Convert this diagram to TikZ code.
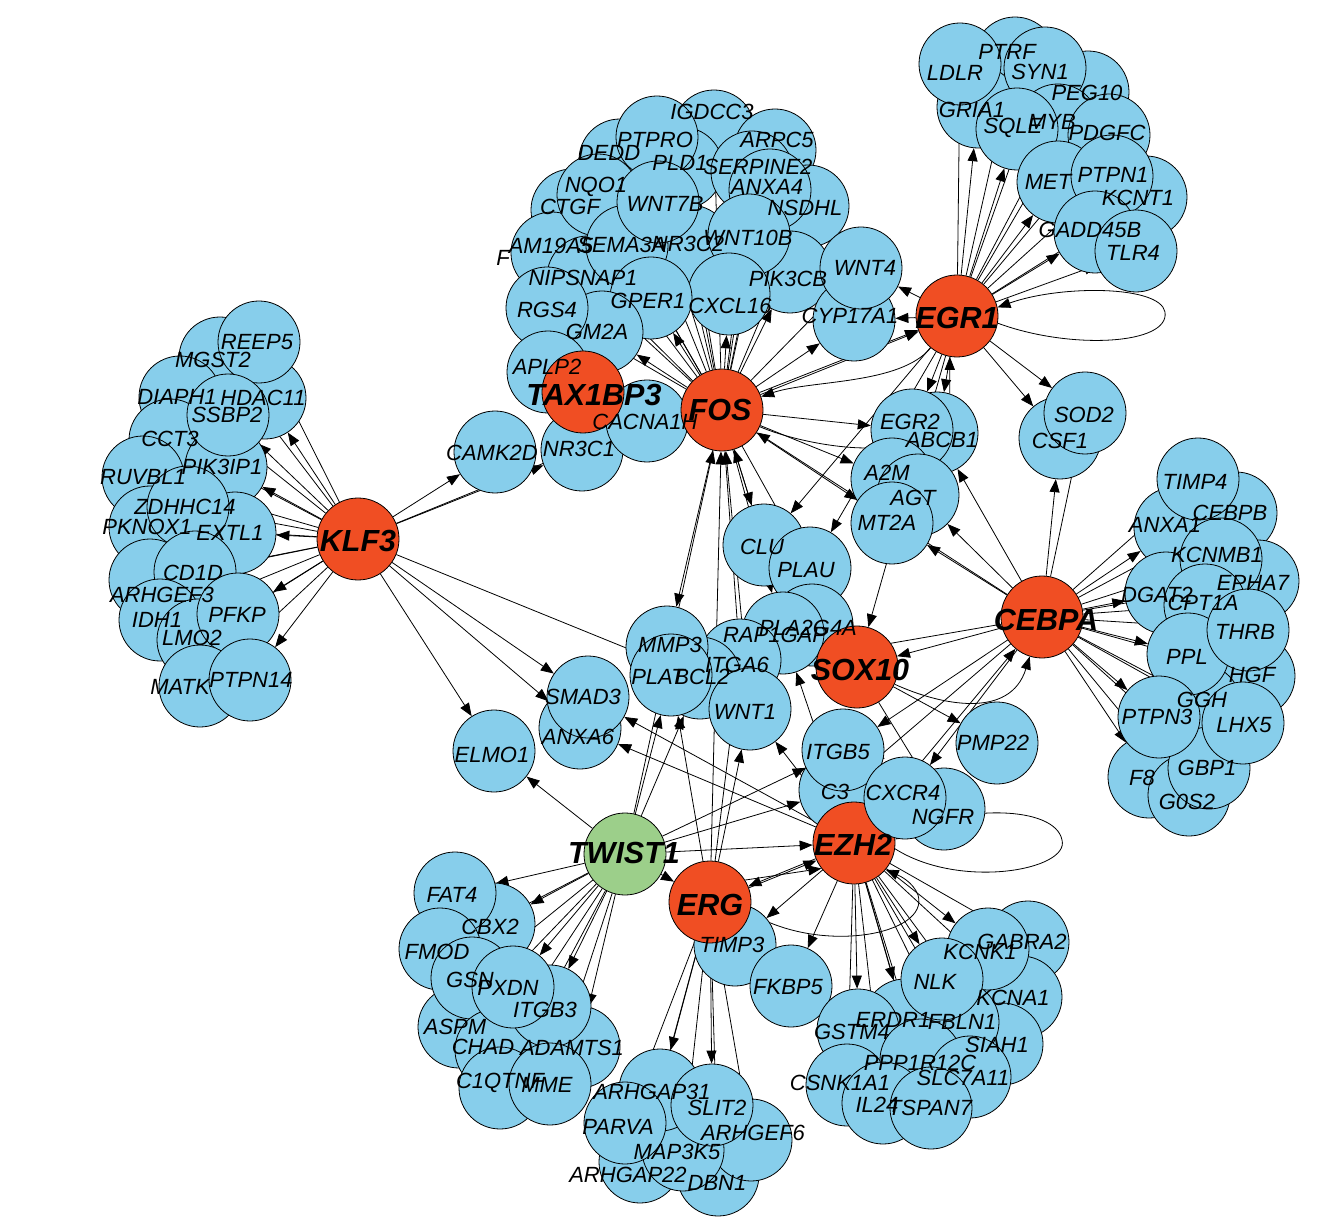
\documentclass[tikz,border=0pt]{standalone}
\usepackage{fontspec}
\setmainfont{Liberation Sans}
\usetikzlibrary{arrows.meta}
\pgfdeclarelayer{edges}
\pgfdeclarelayer{labels}
\pgfsetlayers{edges,main,labels}
\definecolor{nodeblue}{RGB}{135,206,235}
\definecolor{hubred}{RGB}{240,78,35}
\definecolor{twgreen}{RGB}{156,207,138}
\newcommand\gnode[5]{%
  \node[gene] (#1) at (#2,#3) {};
  \begin{pgfonlayer}{labels}\node[glab] at (#4,#5) {#1};\end{pgfonlayer}}
\newcommand\hnode[6]{%
  \node[#1] (#2) at (#3,#4) {};
  \begin{pgfonlayer}{labels}\node[hlab] at (#5,#6) {#2};\end{pgfonlayer}}
\begin{document}
\begin{tikzpicture}[x=1pt,y=-1pt,
  gene/.style={circle,draw=black,line width=0.8pt,fill=nodeblue,minimum size=82pt,inner sep=0pt},
  hubr/.style={gene,fill=hubred},
  hubg/.style={gene,fill=twgreen},
  glab/.style={font=\fontsize{22pt}{22pt}\selectfont\itshape,inner sep=0pt},
  hlab/.style={font=\fontsize{30.5pt}{30.5pt}\selectfont\bfseries\itshape,inner sep=0pt},
  arr/.style={-{Triangle[length=13pt,width=10pt]},line width=0.8pt},
  ln/.style={line width=0.8pt}]
\useasboundingbox (0,0) rectangle (1318,1222);

% ---------- KLF3 cluster ----------
\gnode{MGST2}{220}{358}{213}{360}
\gnode{DIAPH1}{180}{397}{177}{397}
\gnode{HDAC11}{265}{398}{263}{398}
\gnode{CCT3}{170}{440}{170}{439}
\gnode{REEP5}{259}{342}{257}{342}
\gnode{PIK3IP1}{226}{467}{222}{467}
\gnode{SSBP2}{228}{415}{227}{415}
\gnode{EXTL1}{235}{533}{230}{533}
\gnode{RUVBL1}{143}{477}{143}{477}
\gnode{PKNOX1}{150}{527}{147}{527}
\gnode{ZDHHC14}{188}{507}{185}{507}
\gnode{ARHGEF3}{150}{580}{162}{595}
\gnode{CD1D}{195}{572}{193}{573}
\gnode{IDH1}{160}{620}{157}{620}
\gnode{LMO2}{198}{640}{192}{638}
\gnode{PFKP}{238}{614}{237}{615}
\gnode{MATK}{200}{686}{180}{687}
\gnode{PTPN14}{250}{680}{251}{680}

% ---------- FOS top cluster ----------
\gnode{IGDCC3}{714}{131}{712}{112}
\gnode{ARPC5}{775}{150}{777}{140}
\gnode{NSDHL}{808}{206}{805}{208}
\gnode{DEDD}{620}{160}{609}{153}
\gnode{CTGF}{572}{210}{570}{207}
\node[gene] (FAM19A5) at (552,253) {};
\begin{pgfonlayer}{labels}
\node[glab] at (551,246) {AM19A5};
\node[glab] at (503,258) {F};
\end{pgfonlayer}
\gnode{PLD1}{682}{168}{680}{163}
\gnode{SERPINE2}{752}{172}{758}{167}
\gnode{ANXA4}{770}{190}{767}{187}
\gnode{PTPRO}{657}{137}{655}{140}
\gnode{NQO1}{598}{195}{596}{187}
\gnode{NR3C2}{690}{246}{688}{244}
\gnode{NIPSNAP1}{588}{277}{583}{278}
\gnode{SEMA3A}{627}{246}{622}{245}
\gnode{WNT7B}{658}{202}{665}{204}
\gnode{PIK3CB}{790}{272}{788}{279}
\gnode{WNT10B}{749}{235}{748}{238}
\gnode{CYP17A1}{854}{320}{850}{316}
\gnode{WNT4}{861}{268}{865}{268}
\gnode{CXCL16}{729}{294}{730}{306}
\gnode{GPER1}{651}{298}{648}{301}
\gnode{GM2A}{602}{332}{597}{332}
\gnode{RGS4}{547}{308}{547}{310}
\gnode{APLP2}{548}{372}{547}{367}

% ---------- EGR1 cluster ----------
\gnode{PTRF}{1015}{58}{1007}{52}
\gnode{GRIA1}{978}{107}{972}{110}
\gnode{LDLR}{960}{64}{955}{73}
\gnode{PEG10}{1088}{92}{1087}{93}
\gnode{SYN1}{1045}{68}{1040}{72}
\gnode{MYB}{1058}{125}{1052}{122}
\gnode{SQLE}{1017}{129}{1013}{128}
\gnode{PDGFC}{1109}{135}{1107}{133}
\gnode{MET}{1058}{182}{1048}{182}
\gnode{KCNT1}{1146}{197}{1138}{198}
\gnode{PTPN1}{1112}{176}{1113}{175}
\gnode{GADD45B}{1095}{232}{1090}{230}
\gnode{TLR4}{1136}{251}{1133}{253}

% ---------- centre ----------
\gnode{ABCB1}{937}{433}{942}{440}
\gnode{EGR2}{912}{430}{910}{422}
\gnode{A2M}{892}{479}{887}{473}
\gnode{AGT}{918}{495}{913}{498}
\gnode{MT2A}{892}{523}{887}{523}
\gnode{CLU}{764}{545}{762}{547}
\gnode{PLAU}{810}{568}{806}{570}
\gnode{PLA2G4A}{812}{625}{808}{628}
\gnode{RAP1GAP}{783}{633}{775}{635}
\gnode{ITGA6}{740}{660}{737}{665}
\gnode{BCL2}{700}{678}{702}{677}
\gnode{MMP3}{667}{647}{670}{645}
\gnode{PLAT}{671}{675}{658}{677}
\gnode{WNT1}{750}{709}{745}{712}
\gnode{C3}{840}{790}{835}{792}
\gnode{ITGB5}{843}{750}{838}{752}
\gnode{NGFR}{944}{809}{943}{817}
\gnode{PMP22}{997}{743}{993}{743}
\gnode{ANXA6}{580}{728}{578}{737}
\gnode{SMAD3}{588}{697}{583}{697}
\gnode{ELMO1}{494}{751}{492}{755}
\gnode{CAMK2D}{495}{452}{492}{453}
\gnode{NR3C1}{582}{450}{579}{449}
\gnode{CACNA1H}{647}{421}{645}{422}
\gnode{CSF1}{1060}{438}{1060}{441}
\gnode{SOD2}{1085}{413}{1084}{415}

% ---------- TWIST1 cluster ----------
\gnode{CBX2}{494}{924}{490}{927}
\gnode{FAT4}{455}{893}{452}{895}
\gnode{ASPM}{459}{1027}{455}{1027}
\gnode{FMOD}{440}{949}{437}{952}
\gnode{GSN}{472}{978}{470}{980}
\gnode{CHAD}{496}{1050}{483}{1047}
\gnode{C1QTNF}{500}{1088}{500}{1083}
\gnode{ADAMTS1}{579}{1047}{572}{1048}
\gnode{ITGB3}{550}{1006}{545}{1010}
\gnode{PXDN}{513}{987}{508}{988}
\gnode{MME}{550}{1084}{547}{1085}

% ---------- ERG cluster ----------
\gnode{TIMP3}{735}{945}{732}{945}
\gnode{FKBP5}{791}{986}{788}{987}
\gnode{ARHGAP22}{640}{1162}{628}{1175}
\gnode{DBN1}{718}{1175}{717}{1183}
\gnode{ARHGEF6}{751}{1140}{753}{1133}
\gnode{MAP3K5}{683}{1150}{677}{1152}
\gnode{ARHGAP31}{660}{1090}{652}{1092}
\gnode{PARVA}{625}{1123}{618}{1127}
\gnode{SLIT2}{712}{1105}{717}{1108}

% ---------- EZH2 cluster ----------
\gnode{GABRA2}{1028}{942}{1022}{942}
\gnode{KCNA1}{1021}{997}{1013}{998}
\gnode{KCNK1}{988}{949}{980}{952}
\gnode{SIAH1}{1002}{1044}{997}{1045}
\gnode{FBLN1}{958}{1022}{962}{1022}
\gnode{ERDR1}{905}{1020}{893}{1020}
\gnode{NLK}{942}{979}{935}{982}
\gnode{GSTM4}{858}{1030}{852}{1032}
\gnode{CSNK1A1}{847}{1085}{840}{1083}
\gnode{PPP1R12C}{921}{1060}{920}{1063}
\gnode{SLC7A11}{970}{1077}{963}{1078}
\gnode{IL24}{883}{1103}{877}{1105}
\gnode{TSPAN7}{931}{1108}{930}{1108}

% ---------- CEBPA cluster ----------
\gnode{ANXA1}{1175}{528}{1165}{525}
\gnode{DGAT2}{1166}{593}{1157}{595}
\gnode{CEBPB}{1236}{513}{1230}{513}
\gnode{TIMP4}{1198}{479}{1195}{482}
\gnode{EPHA7}{1258}{581}{1253}{583}
\gnode{KCNMB1}{1221}{559}{1217}{555}
\gnode{CPT1A}{1205}{605}{1203}{603}
\gnode{HGF}{1254}{676}{1252}{675}
\gnode{GGH}{1200}{705}{1202}{700}
\gnode{PPL}{1188}{654}{1187}{657}
\gnode{THRB}{1248}{630}{1245}{632}
\gnode{F8}{1149}{777}{1142}{778}
\gnode{G0S2}{1189}{795}{1187}{802}
\gnode{GBP1}{1209}{768}{1207}{768}
\gnode{LHX5}{1243}{723}{1244}{725}
\gnode{PTPN3}{1159}{717}{1157}{717}

% ---------- hubs ----------
\hnode{hubr}{KLF3}{358}{539}{358}{541}
\hnode{hubr}{TAX1BP3}{583}{392}{594}{395}
\hnode{hubr}{FOS}{722}{410}{720}{410}
\hnode{hubr}{EGR1}{957}{316}{957}{318}
\hnode{hubr}{CEBPA}{1042}{617}{1046}{620}
\hnode{hubr}{SOX10}{857}{667}{860}{670}
\hnode{hubr}{EZH2}{854}{843}{853}{845}
\hnode{hubr}{ERG}{710}{902}{710}{905}
\hnode{hubg}{TWIST1}{625}{854}{624}{853}
\gnode{CXCR4}{905}{798}{903}{793}

% ---------- edges ----------
\begin{pgfonlayer}{edges}
\foreach \t in {REEP5,MGST2,DIAPH1,HDAC11,SSBP2,CCT3,PIK3IP1,RUVBL1,ZDHHC14,PKNOX1,EXTL1,CD1D,ARHGEF3,PFKP,IDH1,LMO2,MATK,PTPN14,CAMK2D,NR3C1,CACNA1H,SMAD3,ANXA6,ELMO1,BCL2}
  \draw[arr] (KLF3) -- (\t);
\foreach \t in {IGDCC3,PTPRO,ARPC5,DEDD,PLD1,SERPINE2,NQO1,ANXA4,CTGF,WNT7B,NSDHL,WNT10B,NR3C2,SEMA3A,FAM19A5,WNT4,NIPSNAP1,PIK3CB,RGS4,GPER1,CXCL16,CYP17A1,GM2A,APLP2,EGR2,A2M,MT2A,CLU,PLAU,RAP1GAP,MMP3,EGR1}
  \draw[arr] (FOS) -- (\t);
\draw[arr] (FOS.25) -- (EGR1.200);
\draw[arr] (EGR1) .. controls (900,385) and (810,380) .. (FOS);
\draw[ln] (FOS) .. controls (790,440) and (860,455) .. (ABCB1);
\foreach \s in {CLU,ITGA6,WNT1,CEBPA,TWIST1,ERG}
  \draw[arr] (\s) -- (FOS);
\foreach \t in {PTRF,LDLR,SYN1,PEG10,GRIA1,SQLE,MYB,PDGFC,MET,PTPN1,KCNT1,GADD45B,TLR4,WNT4,CYP17A1,EGR2,ABCB1,CSF1,SOD2,CLU,PLAU,SOX10}
  \draw[arr] (EGR1) -- (\t);
\draw[arr] (ABCB1.72) -- (EGR1.-100);
\draw[arr] (EGR1.-10) .. controls (1070,350) and (1170,345) .. (1165,312) .. controls (1160,285) and (1060,285) .. (EGR1.12);
\foreach \t in {TIMP4,CEBPB,ANXA1,KCNMB1,EPHA7,DGAT2,CPT1A,THRB,PPL,HGF,GGH,PTPN3,LHX5,GBP1,F8,G0S2,CSF1,SOD2,ABCB1,AGT,MT2A,SOX10,ITGB5,CXCR4,C3}
  \draw[arr] (CEBPA) -- (\t);
\draw[arr] (EZH2) -- (CEBPA);
\draw[ln] (SOX10.35) -- (CEBPA.190);
\draw[arr] (SOX10) .. controls (940,705) and (1010,720) .. (CEBPA);
\draw[arr] (SOX10) -- (PMP22);
\draw[arr] (SOX10) -- (NGFR);
\foreach \t in {GABRA2,KCNK1,NLK,KCNA1,ERDR1,FBLN1,GSTM4,SIAH1,PPP1R12C,SLC7A11,CSNK1A1,IL24,TSPAN7,FKBP5,ERG,TIMP3,SMAD3,ANXA6,WNT1,RAP1GAP}
  \draw[arr] (EZH2) -- (\t);
\draw[arr] (ERG.20) -- (EZH2.205);
\draw[arr] (ERG.32) -- (EZH2.218);
\draw[arr] (ERG.-15) .. controls (820,955) and (930,935) .. (918,895) .. controls (913,882) and (900,876) .. (EZH2.-40);
\draw[arr] (EZH2.-8) .. controls (960,890) and (1070,870) .. (1062,840) .. controls (1055,805) and (960,805) .. (EZH2.5);
\foreach \t in {FAT4,CBX2,FMOD,GSN,PXDN,ITGB3,ASPM,CHAD,ADAMTS1,C1QTNF,MME,ELMO1,PLAT,BCL2,EZH2,ITGB5,C3,ERG}
  \draw[arr] (TWIST1) -- (\t);
\foreach \t in {ARHGAP31,SLIT2,PARVA,MAP3K5,ARHGEF6,ARHGAP22,DBN1,WNT1,PLAT,ITGA6}
  \draw[arr] (ERG) -- (\t);
\end{pgfonlayer}
\end{tikzpicture}
\end{document}
